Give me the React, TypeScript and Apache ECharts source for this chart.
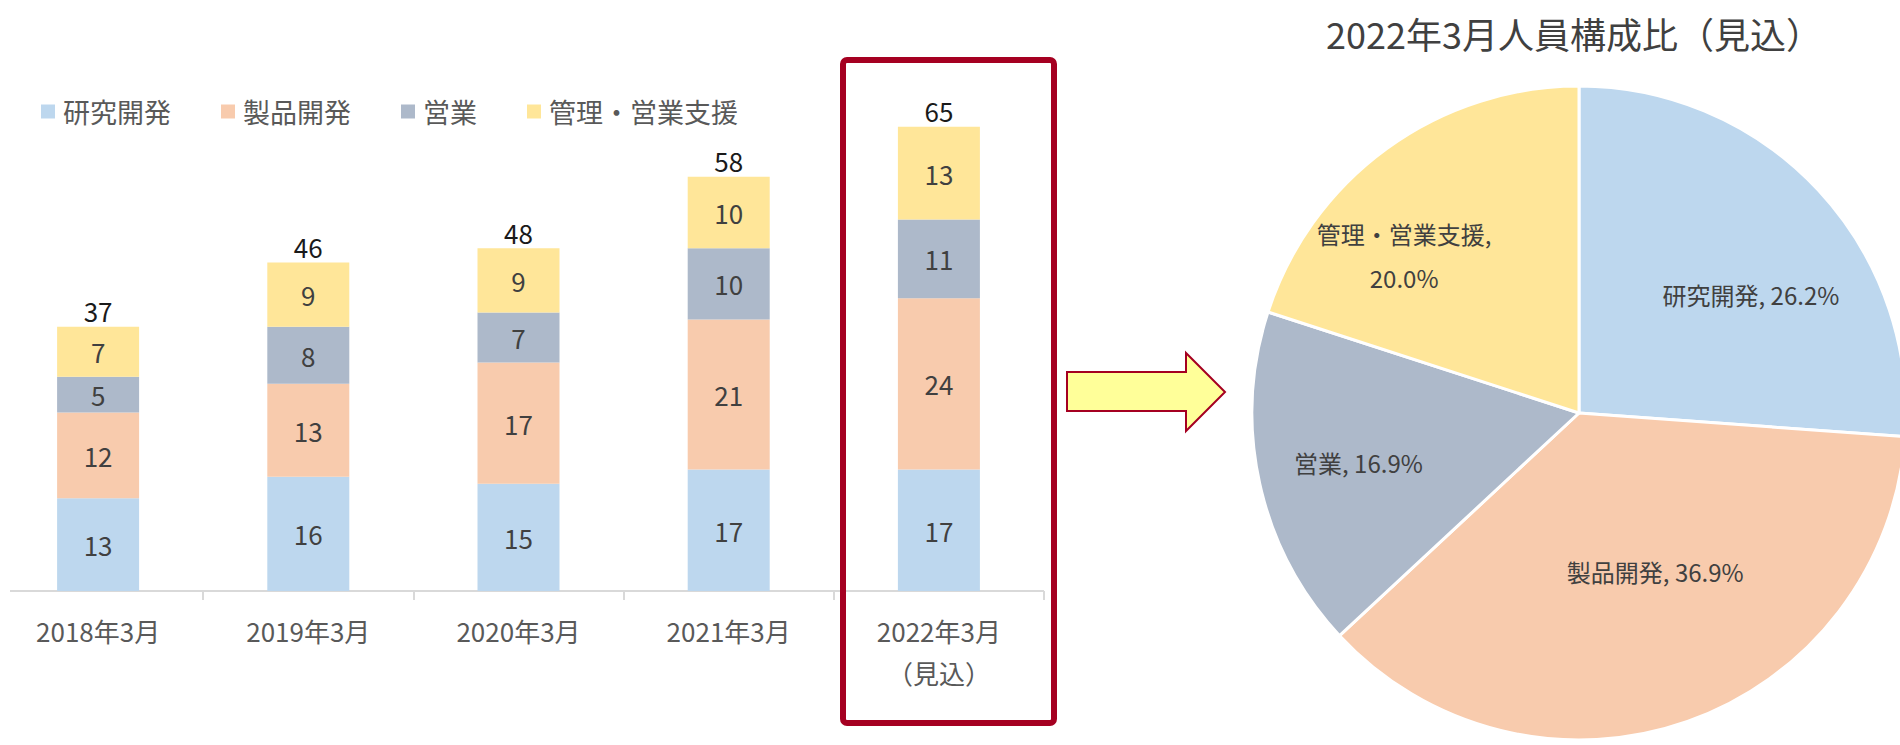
import React, { useEffect, useRef } from "react";
import * as echarts from "echarts";

const categories = ["2018年3月", "2019年3月", "2020年3月", "2021年3月", "2022年3月\n（見込）"];
const seriesNames = ["研究開発", "製品開発", "営業", "管理・営業支援"];
const research = [13, 16, 15, 17, 17];
const product = [12, 13, 17, 21, 24];
const sales = [5, 8, 7, 10, 11];
const admin = [7, 9, 9, 10, 13];
const pieTitle = "2022年3月人員構成比（見込）";

const colors = ["#BDD7EE", "#F8CBAD", "#ADB9CA", "#FFE699"];
const FONT = "'Noto Sans CJK JP', 'Noto Sans', sans-serif";

// the chart canvas is offset 7px to the left of the page (first category is partly cropped)
const OFF = 7;

// label nudges for the pie (layout only)
const pieLabelShift = [
  [50, -5],
  [21, 1],
  [-58, 14],
  [-77, -23],
];

export default function App() {
  const ref = useRef<HTMLDivElement>(null);

  useEffect(() => {
    if (!ref.current) return;
    const chart = echarts.init(ref.current, null, { renderer: "svg" });
    const seriesData = [research, product, sales, admin];
    const totals = categories.map((_, i) => seriesData.reduce((s, arr) => s + arr[i], 0));
    const last = categories.length - 1;
    const pieData = seriesNames.map((n, k) => ({ name: n, value: seriesData[k][last] }));
    const pieTotal = pieData.reduce((s, d) => s + d.value, 0);

    const barSeries: any[] = seriesNames.map((name, k) => ({
      name,
      type: "bar",
      stack: "total",
      barWidth: 82,
      data: seriesData[k],
      itemStyle: { color: colors[k] },
      label: {
        show: true,
        position: "inside",
        fontSize: 26,
        color: "#404040",
        fontFamily: FONT,
      },
    }));
    barSeries.push({
      name: "合計",
      type: "bar",
      stack: "total",
      barWidth: 82,
      data: totals.map(() => 0),
      itemStyle: { color: "transparent" },
      label: {
        show: true,
        position: "top",
        distance: 3,
        fontSize: 26,
        color: "#1a1a1a",
        fontFamily: FONT,
        formatter: (p: any) => String(totals[p.dataIndex]),
      },
      silent: true,
    });

    chart.setOption({
      animation: false,
      textStyle: { fontFamily: FONT },
      title: {
        text: pieTitle,
        left: 1569 + OFF,
        top: 10,
        textAlign: "center",
        textStyle: { fontSize: 36, fontWeight: "normal", color: "#404040", fontFamily: FONT },
      },
      legend: {
        data: seriesNames,
        left: 36 + OFF,
        top: 93,
        itemWidth: 14,
        itemHeight: 14,
        itemGap: 50,
        icon: "rect",
        textStyle: { fontSize: 27, color: "#595959", fontFamily: FONT, padding: [0, 0, 0, 3] },
      },
      grid: { left: 0, top: 91, width: 1051, height: 500, containLabel: false },
      xAxis: {
        type: "category",
        data: categories,
        axisLine: { show: false },
        axisTick: { show: true, length: 9, lineStyle: { color: "#D9D9D9", width: 2 } },
        axisLabel: { fontSize: 26, color: "#595959", margin: 18, lineHeight: 42, fontFamily: FONT },
      },
      yAxis: {
        type: "value",
        min: 0,
        max: 70,
        show: false,
        splitLine: { show: false },
      },
      series: [
        ...barSeries,
        {
          name: "構成比",
          type: "pie",
          center: [1579 + OFF, 413],
          radius: 327,
          startAngle: 90,
          clockwise: true,
          data: pieData.map((d, k) => ({ ...d, itemStyle: { color: colors[k] } })),
          itemStyle: { borderColor: "#ffffff", borderWidth: 3 },
          label: {
            show: true,
            position: "inside",
            fontSize: 24,
            lineHeight: 44,
            color: "#404040",
            fontFamily: FONT,
            formatter: (p: any) => {
              const pct = ((p.value / pieTotal) * 100).toFixed(1) + "%";
              return p.name.length > 4 ? p.name + ",\n" + pct : p.name + ", " + pct;
            },
          },
          labelLine: { show: false },
          labelLayout: (params: any) => {
            const s = pieLabelShift[params.dataIndex] || [0, 0];
            return { dx: s[0], dy: s[1] };
          },
          emphasis: { disabled: true },
        },
      ],
      graphic: [
        {
          type: "line",
          shape: { x1: 10 + OFF, y1: 591, x2: 1044 + OFF, y2: 591 },
          style: { stroke: "#D9D9D9", lineWidth: 2 },
          silent: true,
        },
        {
          type: "rect",
          shape: { x: 843 + OFF, y: 60, width: 211, height: 663, r: 4 },
          style: { fill: "none", stroke: "#A50021", lineWidth: 6 },
          silent: true,
        },
        {
          type: "polygon",
          shape: {
            points: [
              [1067 + OFF, 372],
              [1186 + OFF, 372],
              [1186 + OFF, 353],
              [1225 + OFF, 392],
              [1186 + OFF, 431],
              [1186 + OFF, 411],
              [1067 + OFF, 411],
            ],
          },
          style: { fill: "#FFFF99", stroke: "#A50021", lineWidth: 2 },
          silent: true,
        },
      ],
    });
    return () => chart.dispose();
  }, []);

  return (
    <div
      ref={ref}
      style={{ position: "fixed", left: -OFF, top: 0, width: 1900 + OFF, height: 745, background: "#fff" }}
    />
  );
}
